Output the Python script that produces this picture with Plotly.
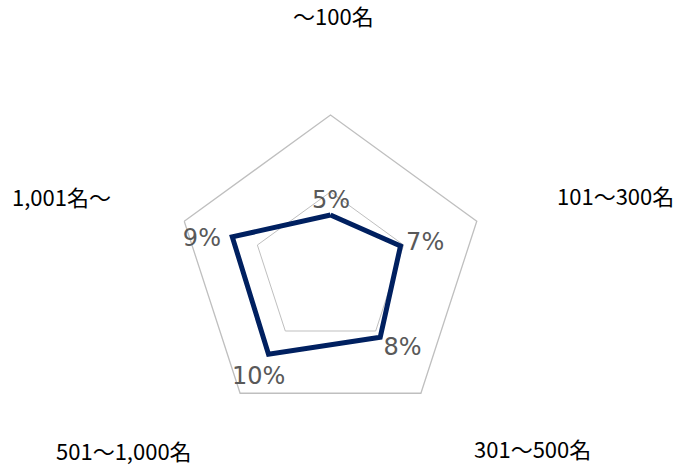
import plotly.graph_objects as go

categories = ["～100名", "101～300名", "301～500名", "501～1,000名", "1,001名～"]
values = [4.9, 6.7, 7.7, 9.6, 9.4]
labels = ["5%", "7%", "8%", "10%", "9%"]
ring_ticks = [7, 14]

# label placement offsets (style): radial shift in axis units, angular shift in degrees
label_dr = [1.15, 2.2, 2.15, 2.3, 2.6]
label_dtheta = [0.4, 3.5, -5.8, -2.7, -5.3]

n = len(categories)
step = 360 / n

fig = go.Figure()
fig.add_trace(go.Scatterpolar(
    r=values + values[:1],
    theta=categories + categories[:1],
    mode="lines",
    line=dict(color="#002060", width=5),
    showlegend=False,
    hoverinfo="skip",
    subplot="polar",
))

fig.add_trace(go.Scatterpolar(
    r=[v + d for v, d in zip(values, label_dr)],
    theta=[i * step + dt for i, dt in enumerate(label_dtheta)],
    mode="text",
    text=labels,
    textposition="middle center",
    textfont=dict(family="DejaVu Sans", size=24, color="#595959"),
    showlegend=False,
    hoverinfo="skip",
    cliponaxis=False,
    subplot="polar2",
))

# category labels placed far outside the grid
cat_xy = [(333, 15), (615, 195), (532, 448), (124, 450), (61, 196)]
for name, (px, py) in zip(categories, cat_xy):
    fig.add_annotation(
        x=px / 676, y=1 - py / 465, xref="paper", yref="paper",
        text=name, showarrow=False, xanchor="center", yanchor="middle",
        font=dict(family="Noto Sans CJK JP", size=22, color="#000000"),
    )

cx, cy, R = 330.5, 268.8, 153.8
dom = dict(x=[(cx - R) / 676, (cx + R) / 676],
           y=[(465 - cy - R) / 465, (465 - cy + R) / 465])
fig.update_layout(
    width=676, height=465,
    margin=dict(l=0, r=0, t=0, b=0),
    paper_bgcolor="white",
    plot_bgcolor="white",
    polar=dict(
        domain=dom,
        gridshape="linear",
        bgcolor="white",
        radialaxis=dict(range=[0, 14], tickvals=ring_ticks, showticklabels=False,
                        showline=False, ticks="", gridcolor="#bfbfbf", gridwidth=1.3),
        angularaxis=dict(rotation=90, direction="clockwise", showticklabels=False,
                         ticks="", showgrid=False, showline=True,
                         linecolor="#bfbfbf", linewidth=1.3),
    ),
    polar2=dict(
        domain=dom,
        bgcolor="rgba(0,0,0,0)",
        radialaxis=dict(range=[0, 14], visible=False, showgrid=False),
        angularaxis=dict(rotation=90, direction="clockwise", visible=False,
                         showgrid=False, showline=False, showticklabels=False, ticks=""),
    ),
)

fig.write_html("out.html", config={"displayModeBar": False},
               post_script="document.body.style.margin='0';")
